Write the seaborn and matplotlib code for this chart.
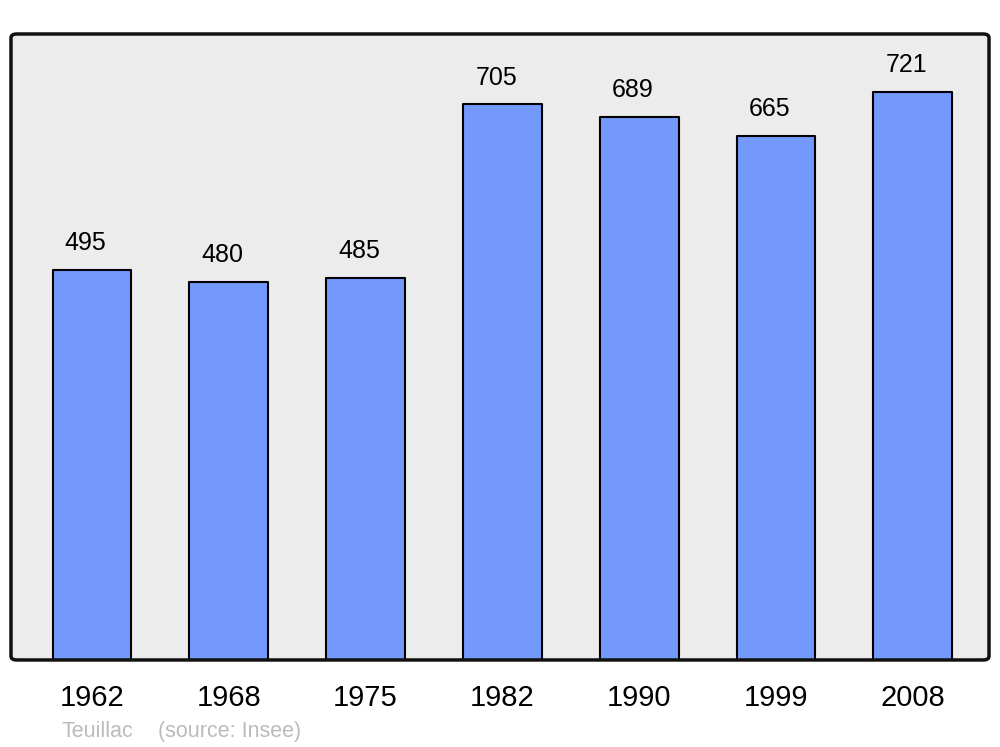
import matplotlib
matplotlib.use("Agg")
import matplotlib.pyplot as plt
from matplotlib.patches import FancyBboxPatch
import seaborn as sns
import pandas as pd

# donnees
annees = ["1962", "1968", "1975", "1982", "1990", "1999", "2008"]
population = [495, 480, 485, 705, 689, 665, 721]

df = pd.DataFrame({"annee": annees, "population": population})

sns.set_style("white")
plt.rcParams['font.family'] = ['Liberation Sans', 'DejaVu Sans']
plt.rcParams['text.color'] = 'black'
plt.rcParams['xtick.color'] = 'black'

fig = plt.figure(figsize=(10, 7.47), dpi=100)
ax = fig.add_axes([0.011, 0.1165, 0.978, 0.838])
ax.set_facecolor("#ececec")

sns.barplot(data=df, x="annee", y="population", color="#7399ff",
            saturation=1, width=0.575, edgecolor="black", linewidth=1.5, ax=ax)

for p in ax.patches:
    p.set_joinstyle("round")

for i, v in enumerate(population):
    ax.annotate(str(v), (i, v), xytext=(-4.5, 19), textcoords="offset points",
                ha="center", va="center", fontsize=18, color="black")

ax.set_xlim(-0.592, 6.557)
ax.set_ylim(0, 794)
ax.set_xlabel("")
ax.set_ylabel("")
ax.set_yticks([])
ax.tick_params(axis="x", length=0, pad=17, labelsize=21, labelcolor="black")

# cadre arrondi
for s in ax.spines.values():
    s.set_visible(False)
cadre = FancyBboxPatch((0, 0), 1, 1, boxstyle="round,pad=0,rounding_size=0.006",
                       transform=ax.transAxes, fill=False, edgecolor="#111111",
                       linewidth=2.5, clip_on=False, zorder=5)
ax.add_patch(cadre)

fig.text(0.062, 0.021, "Teuillac", color="#bbbbbb", fontsize=15.5, va="center")
fig.text(0.158, 0.021, "(source: Insee)", color="#bbbbbb", fontsize=15.5, va="center")

fig.savefig("out.png", dpi=100)
